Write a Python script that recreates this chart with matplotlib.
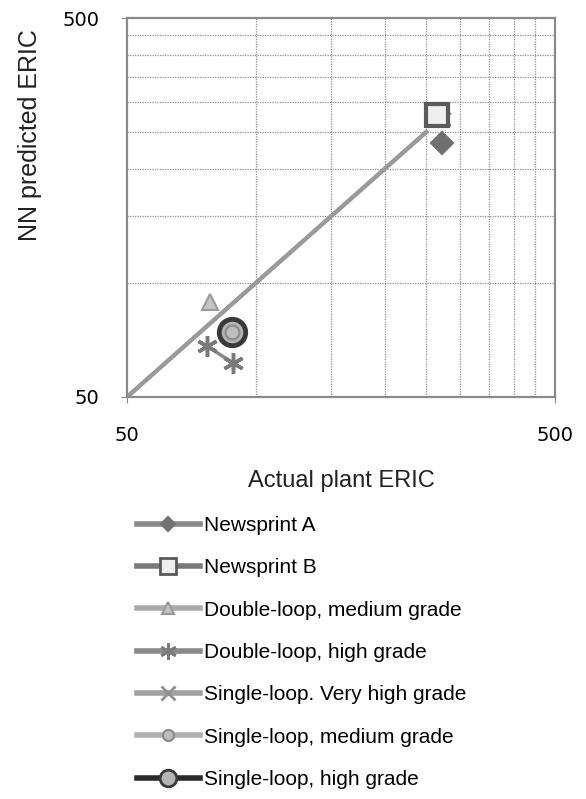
import numpy as np
import matplotlib.pyplot as plt
from matplotlib.ticker import FixedLocator, NullFormatter, NullLocator

# ERIC values (actual plant vs. NN prediction), log-log
newsprint_a_x = [272]
newsprint_a_y = [234]
newsprint_b_x = [265]
newsprint_b_y = [277]
dl_medium_x = [78]
dl_medium_y = [89]
dl_high_x = [77, 88.5]
dl_high_y = [68, 61.5]
sl_very_high_x = [273]
sl_very_high_y = [271]
sl_medium_x = [88]
sl_medium_y = [74]
sl_high_x = [88]
sl_high_y = [74]

parity_x = [50, 250]
parity_y = [50, 250]

grid_values = [50, 100, 150, 200, 250, 300, 350, 400, 450, 500]
tick_values = [50, 500]

fig = plt.figure(figsize=(5.86, 7.99), dpi=100)
ax = fig.add_axes([127 / 586, 1 - 397 / 799, 428 / 586, 379 / 799])
ax.set_xscale('log')
ax.set_yscale('log')
ax.set_xlim(50, 500)
ax.set_ylim(50, 500)

# gridlines every 50 on both axes
for v in grid_values[1:-1]:
    ax.axvline(v, color='#8f8f8f', lw=0.9, ls=(0, (1, 1)), zorder=1)
    ax.axhline(v, color='#8f8f8f', lw=0.9, ls=(0, (1, 1)), zorder=1)

ax.plot(parity_x, parity_y, color='#9a9a9a', lw=3.2, zorder=2)

series = [
    dict(x=newsprint_a_x, y=newsprint_a_y, label='Newsprint A', color='#8a8a8a',
         marker='D', ms=11, mfc='#707070', mec='#707070', mew=1.5, lms=7),
    dict(x=newsprint_b_x, y=newsprint_b_y, label='Newsprint B', color='#7a7a7a',
         marker='s', ms=16, mfc='#eeeeee', mec='#5a5a5a', mew=3, lms=11),
    dict(x=dl_medium_x, y=dl_medium_y, label='Double-loop, medium grade', color='#ababab',
         marker='^', ms=11, mfc='#c4c4c4', mec='#9a9a9a', mew=1.5, lms=8),
    dict(x=dl_high_x, y=dl_high_y, label='Double-loop, high grade', color='#8a8a8a',
         marker=(6, 2, 0), ms=15, mfc='#7a7a7a', mec='#7a7a7a', mew=2.5, lms=12),
    dict(x=sl_very_high_x, y=sl_very_high_y, label='Single-loop. Very high grade', color='#a0a0a0',
         marker='x', ms=10, mfc='#909090', mec='#909090', mew=2.5, lms=10),
    dict(x=sl_medium_x, y=sl_medium_y, label='Single-loop, medium grade', color='#b0b0b0',
         marker='o', ms=10, mfc='#bdbdbd', mec='#8a8a8a', mew=1.5, lms=8),
    dict(x=sl_high_x, y=sl_high_y, label='Single-loop, high grade', color='#2a2a2a',
         marker='o', ms=19, mfc='#b5b5b5', mec='#3a3a3a', mew=3.5, lms=12),
]

handles = []
for s in series[::-1]:
    ax.plot(s['x'], s['y'], color=s['color'], lw=2.5, marker=s['marker'], ms=s['ms'],
            mfc=s['mfc'], mec=s['mec'], mew=s['mew'], zorder=3)
for s in series:
    h, = plt.plot([], [], color=s['color'], lw=4, marker=s['marker'], ms=s['lms'],
                  mfc=s['mfc'], mec=s['mec'], mew=min(s['mew'], 2), label=s['label'])
    handles.append(h)

for side in ['top', 'right', 'bottom', 'left']:
    ax.spines[side].set_color('#8a8a8a')
    ax.spines[side].set_linewidth(1.6)

ax.xaxis.set_major_locator(FixedLocator(tick_values))
ax.yaxis.set_major_locator(FixedLocator(tick_values))
ax.xaxis.set_minor_locator(NullLocator())
ax.yaxis.set_minor_locator(NullLocator())
ax.xaxis.set_minor_formatter(NullFormatter())
ax.yaxis.set_minor_formatter(NullFormatter())
ax.set_xticklabels(['50', '500'], family='DejaVu Sans', fontsize=14)
ax.set_yticklabels(['50', '500'], family='DejaVu Sans', fontsize=14)
ax.tick_params(axis='x', length=4, color='#8a8a8a', pad=17)
ax.tick_params(axis='y', length=4, color='#8a8a8a', pad=16)

fig.text(341 / 586, 1 - 481 / 799, 'Actual plant ERIC', ha='center', va='center',
         family='Liberation Sans', fontsize=17, color='#222222')
fig.text(30 / 586, 1 - 135 / 799, 'NN predicted ERIC', ha='center', va='center',
         rotation=90, family='Liberation Sans', fontsize=18, color='#222222')

fig.legend(handles=handles, loc='upper left', bbox_to_anchor=(137 / 586, 1 - 516 / 799),
           frameon=False, borderpad=0, borderaxespad=0, handlelength=3.0,
           handletextpad=0.2, labelspacing=1.12,
           prop={'family': 'Liberation Sans', 'size': 15})

fig.savefig('out.png', dpi=100)
